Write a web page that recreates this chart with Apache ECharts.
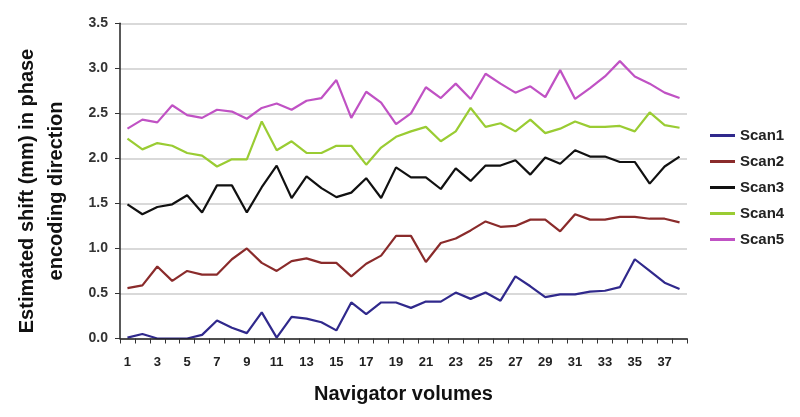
<!DOCTYPE html>
<html>
<head>
<meta charset="utf-8">
<script src="https://cdn.jsdelivr.net/npm/echarts@6/dist/echarts.min.js"></script>
<style>html,body{margin:0;padding:0;background:#fff}#c{width:800px;height:417px}</style>
</head>
<body>
<div id="c"></div>
<script>
var categories = [];
for (var i = 1; i <= 38; i++) categories.push(String(i));
var seriesNames = ['Scan1', 'Scan2', 'Scan3', 'Scan4', 'Scan5'];
var scan1 = [0.01,0.05,0.0,0,0.0,0.04,0.20,0.12,0.06,0.29,0.01,0.24,0.22,0.18,0.09,0.40,0.27,0.40,0.40,0.34,0.41,0.41,0.51,0.44,0.51,0.42,0.69,0.58,0.46,0.49,0.49,0.52,0.53,0.57,0.88,0.75,0.62,0.55];
var scan2 = [0.56,0.59,0.80,0.64,0.75,0.71,0.71,0.88,1.00,0.84,0.75,0.86,0.89,0.84,0.84,0.69,0.83,0.92,1.14,1.14,0.85,1.06,1.11,1.20,1.30,1.24,1.25,1.32,1.32,1.19,1.38,1.32,1.32,1.35,1.35,1.33,1.33,1.29];
var scan3 = [1.49,1.38,1.46,1.49,1.59,1.40,1.70,1.70,1.40,1.68,1.92,1.56,1.80,1.67,1.57,1.62,1.78,1.56,1.90,1.79,1.79,1.66,1.89,1.75,1.92,1.92,1.98,1.82,2.01,1.94,2.09,2.02,2.02,1.96,1.96,1.72,1.91,2.02];
var scan4 = [2.22,2.10,2.17,2.14,2.06,2.03,1.91,1.99,1.99,2.41,2.09,2.19,2.06,2.06,2.14,2.14,1.93,2.12,2.24,2.30,2.35,2.19,2.30,2.56,2.35,2.39,2.30,2.43,2.28,2.33,2.41,2.35,2.35,2.36,2.30,2.51,2.37,2.34];
var scan5 = [2.33,2.43,2.40,2.59,2.48,2.45,2.54,2.52,2.44,2.56,2.61,2.54,2.64,2.67,2.87,2.45,2.74,2.62,2.38,2.50,2.79,2.67,2.83,2.66,2.94,2.83,2.73,2.80,2.68,2.98,2.66,2.78,2.91,3.08,2.91,2.83,2.73,2.67];
var colors = ['#30298c', '#8a2b2b', '#111111', '#9acc33', '#c052c4'];
var allData = [scan1, scan2, scan3, scan4, scan5];

var FONT = '"Liberation Sans", Arial, sans-serif';
var chart = echarts.init(document.getElementById('c'), null, {renderer: 'canvas'});
var series = seriesNames.map(function (n, k) {
  return {
    name: n, type: 'line', data: allData[k], symbol: 'none', z: 2,
    lineStyle: {color: colors[k], width: 2.2}, itemStyle: {color: colors[k]}
  };
});
chart.setOption({
  animation: false,
  backgroundColor: '#fff',
  grid: {left: 120, right: 113, top: 23.3, bottom: 78.5, containLabel: false},
  legend: {
    orient: 'vertical', left: 705, top: 123, icon: 'rect', itemWidth: 25, itemHeight: 3, itemGap: 11,
    textStyle: {fontFamily: FONT, fontSize: 15, fontWeight: 'bold', color: '#222', lineHeight: 15},
    data: seriesNames
  },
  xAxis: {
    type: 'category', data: categories, boundaryGap: true, z: 5,
    name: 'Navigator volumes', nameLocation: 'middle', nameGap: 46,
    nameTextStyle: {fontFamily: FONT, fontSize: 20, fontWeight: 'bold', color: '#111'},
    axisLine: {lineStyle: {color: '#222', width: 1.5}},
    axisTick: {show: true, interval: 0, length: 5, lineStyle: {color: '#333'}},
    axisLabel: {interval: 1, margin: 17, fontFamily: FONT, fontSize: 13, fontWeight: 'bold', color: '#222'},
    splitLine: {show: false}
  },
  yAxis: {
    type: 'value', min: 0, max: 3.5, interval: 0.5,
    axisLine: {show: true, lineStyle: {color: '#222', width: 1.5}},
    axisTick: {show: true, length: 5, lineStyle: {color: '#333'}},
    axisLabel: {margin: 12, fontFamily: FONT, fontSize: 14, fontWeight: 'bold', color: '#333',
      formatter: function (v) { return v.toFixed(1); }},
    splitLine: {show: true, lineStyle: {color: '#cccccc', width: 1.5}}
  },
  graphic: [{
    type: 'text', x: 42, y: 191, rotation: Math.PI / 2,
    style: {
      text: 'Estimated shift (mm) in phase\nencoding direction',
      font: 'bold 20px ' + FONT, fill: '#111', align: 'center', verticalAlign: 'middle', lineHeight: 29
    }
  }],
  series: series
});
</script>
</body>
</html>
